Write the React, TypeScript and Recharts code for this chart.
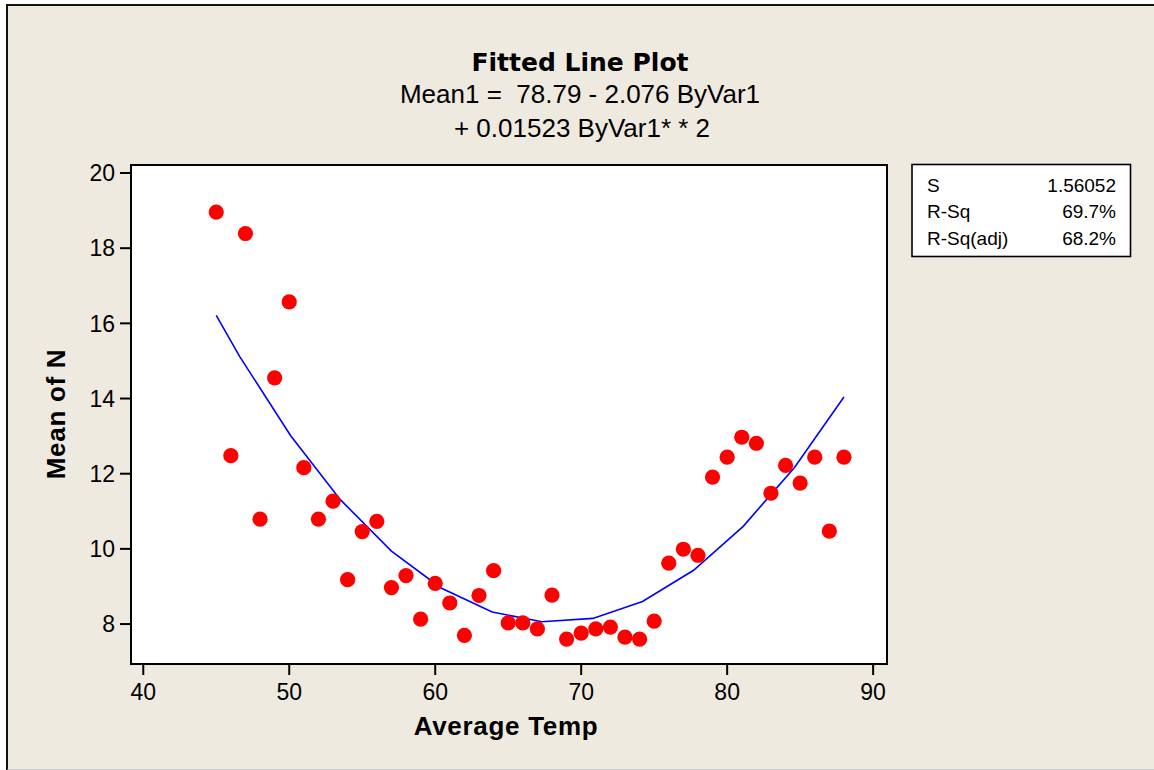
import React from 'react';
import { ScatterChart, Scatter, XAxis, YAxis, CartesianGrid, ReferenceArea } from 'recharts';

const temps = [45, 46, 47, 48, 49, 50, 51, 52, 53, 54, 55, 56, 57, 58, 59, 60, 61, 62, 63, 64, 65, 66, 67, 68, 69, 70, 71, 72, 73, 74, 75, 76, 77, 78, 79, 80, 81, 82, 83, 84, 85, 86, 87, 88];
const meanN = [18.96, 12.48, 18.39, 10.79, 14.55, 16.57, 12.16, 10.79, 11.27, 9.18, 10.46, 10.73, 8.97, 9.29, 8.13, 9.08, 8.56, 7.70, 8.76, 9.42, 8.03, 8.03, 7.87, 8.77, 7.60, 7.76, 7.87, 7.92, 7.65, 7.60, 8.08, 9.62, 9.99, 9.83, 11.91, 12.44, 12.97, 12.81, 11.48, 12.22, 11.75, 12.44, 10.47, 12.44];

const fitX = [45, 46.6, 50.1, 53.5, 57.0, 60.4, 63.9, 67.3, 70.8, 74.2, 77.7, 81.1, 84.6, 88];
const fitY = [16.21, 15.12, 13.01, 11.31, 9.94, 8.96, 8.32, 8.06, 8.15, 8.60, 9.43, 10.60, 12.16, 14.04];

const xTicks = [40, 50, 60, 70, 80, 90];
const yTicks = [8, 10, 12, 14, 16, 18, 20];
const xDomain: [number, number] = [39.16, 90.95];
const yDomain: [number, number] = [6.937, 20.213];

const titleText = 'Fitted Line Plot';
const eqLine1 = 'Mean1 =  78.79 - 2.076 ByVar1';
const eqLine2 = '+ 0.01523 ByVar1* * 2';
const xLabel = 'Average Temp';
const yLabel = 'Mean of N';
const statNames = ['S', 'R-Sq', 'R-Sq(adj)'];
const statValues = ['1.56052', '69.7%', '68.2%'];

const points = temps.map((t, i) => ({ x: t, y: meanN[i] }));
const fitData = fitX.map((t, i) => ({ x: t, y: fitY[i] }));

const FONT = '"Liberation Sans", Arial, sans-serif';
const BG = '#EEEAE0';

export default function App() {
  return (
    <div style={{ position: 'absolute', left: 0, top: 0, width: 1154, height: 770, background: '#fff', overflow: 'hidden' }}>
      <div
        style={{
          position: 'absolute',
          left: 6,
          top: 4,
          width: 1160,
          height: 763,
          background: BG,
          borderTop: '2px solid #111',
          borderLeft: '2px solid #111',
          borderBottom: '2px solid #cfcfcf',
        }}
      />
      <div style={{ position: 'absolute', left: 0, top: 0 }}>
        <ScatterChart width={1154} height={770} margin={{ top: 165, right: 267, left: 0, bottom: 66 }}>
          <CartesianGrid horizontal={false} vertical={false} fill="#ffffff" fillOpacity={1} />
          <XAxis
            type="number"
            dataKey="x"
            domain={xDomain}
            ticks={xTicks}
            allowDataOverflow
            axisLine={false}
            tickLine={{ stroke: '#000', strokeWidth: 2 }}
            tickSize={11}
            tickMargin={9}
            height={40}
            tick={{ fill: '#000', fontSize: 23, fontFamily: FONT }}
          />
          <YAxis
            type="number"
            dataKey="y"
            domain={yDomain}
            ticks={yTicks}
            allowDataOverflow
            axisLine={false}
            tickLine={{ stroke: '#000', strokeWidth: 2 }}
            tickSize={11}
            tickMargin={5}
            width={131}
            tick={{ fill: '#000', fontSize: 23, fontFamily: FONT }}
          />
          <ReferenceArea
            x1={xDomain[0]}
            x2={xDomain[1]}
            y1={yDomain[0]}
            y2={yDomain[1]}
            fill="none"
            fillOpacity={0}
            stroke="#000"
            strokeWidth={2}
            ifOverflow="visible"
          />
          <Scatter
            data={fitData}
            line={{ stroke: '#0000FF', strokeWidth: 1.6 }}
            shape={() => <g />}
            isAnimationActive={false}
          />
          <Scatter
            data={points}
            fill="#FF0000"
            shape={(p: any) => <circle cx={p.cx} cy={p.cy} r={7.6} fill="#FF0000" />}
            isAnimationActive={false}
          />
        </ScatterChart>
      </div>
      <svg width={1154} height={770} style={{ position: 'absolute', left: 0, top: 0, pointerEvents: 'none' }}>
        <text x={580} y={70.5} textAnchor="middle" fontFamily='"DejaVu Sans", sans-serif' fontWeight="bold" fontSize={25} fill="#000">
          {titleText}
        </text>
        <text x={580} y={103.3} textAnchor="middle" fontFamily={FONT} fontSize={26} fill="#000" style={{ whiteSpace: 'pre' }}>
          {eqLine1}
        </text>
        <text x={582} y={136.7} textAnchor="middle" fontFamily={FONT} fontSize={26} fill="#000" style={{ whiteSpace: 'pre' }}>
          {eqLine2}
        </text>
        <text x={506} y={734.5} textAnchor="middle" fontFamily={FONT} fontWeight="bold" fontSize={26} letterSpacing={0.7} fill="#000">
          {xLabel}
        </text>
        <text
          x={65}
          y={414}
          textAnchor="middle"
          transform="rotate(-90 65 414)"
          fontFamily={FONT}
          fontWeight="bold"
          fontSize={26}
          letterSpacing={0.7}
          fill="#000"
        >
          {yLabel}
        </text>
        <rect x={912} y={164.5} width={218.5} height={92} fill="#fff" stroke="#000" strokeWidth={1.6} />
        {statNames.map((n, i) => (
          <text key={n} x={927} y={191.5 + i * 26.7} fontFamily={FONT} fontSize={19} fill="#000">
            {n}
          </text>
        ))}
        {statValues.map((v, i) => (
          <text key={v} x={1116} y={191.5 + i * 26.7} textAnchor="end" fontFamily={FONT} fontSize={19} fill="#000">
            {v}
          </text>
        ))}
      </svg>
    </div>
  );
}
